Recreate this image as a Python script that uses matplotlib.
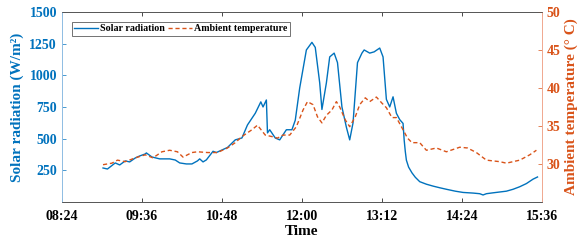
import pandas as pd
import numpy as np
import matplotlib.pyplot as plt
import matplotlib.dates as mdates

# --- datos ---
t_rad = ["09:01", "09:05", "09:12", "09:16", "09:21", "09:25", "09:30", "09:34", "09:39", "09:40",
         "09:45", "09:52", "10:01", "10:06", "10:10", "10:16", "10:21", "10:26", "10:28", "10:31",
         "10:34", "10:40", "10:43", "10:53", "11:00", "11:06", "11:11", "11:18", "11:23", "11:25",
         "11:28", "11:29", "11:31", "11:36", "11:40", "11:46", "11:51", "11:54", "11:58", "12:04",
         "12:09", "12:12", "12:16", "12:18", "12:22", "12:25", "12:29", "12:32", "12:36", "12:40",
         "12:43", "12:46", "12:50", "12:54", "12:56", "13:01", "13:05", "13:10", "13:13", "13:16",
         "13:19", "13:22", "13:25", "13:28", "13:31", "13:32", "13:33", "13:34", "13:36", "13:39",
         "13:42", "13:46", "13:52", "13:58", "14:04", "14:10", "14:18", "14:25", "14:34", "14:40",
         "14:43", "14:46", "14:52", "15:04", "15:10", "15:16", "15:22", "15:28", "15:32"]
radiacion = [268, 260, 308, 292, 324, 316, 347, 363, 379, 387,
             355, 340, 340, 331, 308, 300, 300, 324, 340, 316,
             332, 400, 390, 430, 490, 505, 608, 700, 790, 750,
             805, 545, 570, 505, 490, 570, 570, 645, 900, 1200,
             1260, 1220, 940, 730, 940, 1145, 1175, 1100, 750, 590,
             490, 625, 1100, 1175, 1200, 1175, 1185, 1215, 1145, 810,
             750, 830, 700, 650, 620, 490, 400, 330, 275, 230,
             195, 160, 140, 125, 112, 100, 85, 75, 70, 65,
             55, 65, 72, 85, 100, 120, 145, 180, 197]

t_temp = ["09:01", "09:09", "09:14", "09:21", "09:30", "09:39", "09:46", "09:54", "10:01", "10:08",
          "10:13", "10:21", "10:26", "10:35", "10:44", "10:53", "11:00", "11:06", "11:15", "11:20",
          "11:27", "11:33", "11:38", "11:43", "11:49", "11:55", "12:01", "12:05", "12:10", "12:14",
          "12:18", "12:22", "12:27", "12:31", "12:34", "12:39", "12:43", "12:48", "12:52", "12:57",
          "13:01", "13:07", "13:12", "13:16", "13:21", "13:25", "13:31", "13:35", "13:39", "13:46",
          "13:52", "14:01", "14:10", "14:22", "14:29", "14:37", "14:46", "14:58", "15:04", "15:16",
          "15:25", "15:31"]
temperatura = [29.9, 30.1, 30.5, 30.3, 30.8, 31.2, 30.8, 31.6, 31.8, 31.6,
               30.9, 31.5, 31.6, 31.5, 31.5, 32.1, 32.8, 33.6, 34.5, 35.1,
               33.8, 33.6, 33.4, 33.8, 33.8, 34.9, 37.1, 38.2, 37.8, 36.2,
               35.4, 36.4, 37.1, 38.2, 37.5, 35.8, 34.9, 36.2, 37.8, 38.7,
               38.2, 38.8, 38.0, 37.4, 36.1, 36.1, 34.5, 33.4, 32.8, 32.8,
               31.8, 32.1, 31.6, 32.2, 32.1, 31.5, 30.5, 30.3, 30.1, 30.5,
               31.2, 31.8]

ticks_x = ["08:24", "09:36", "10:48", "12:00", "13:12", "14:24", "15:36"]

azul = '#0072BD'
naranja = '#D95319'

def a_fecha(lista):
    return pd.to_datetime(["2020-01-01 " + s for s in lista])

plt.rcParams['font.family'] = 'Liberation Serif'
plt.rcParams['font.weight'] = 'bold'

fig = plt.figure(figsize=(5.84, 2.49), dpi=100)
ax1 = fig.add_axes([0.106, 0.189, 0.822, 0.763])
ax2 = ax1.twinx()

l1, = ax1.plot(a_fecha(t_rad), radiacion, color=azul, lw=1.0, label='Solar radiation')
l2, = ax2.plot(a_fecha(t_temp), temperatura, color=naranja, lw=1.0, ls=(0, (3, 2)),
               label='Ambient temperature')

fx = a_fecha(ticks_x)
ax1.set_xlim(fx[0], fx[-1])
ax1.set_xticks(fx)
ax1.xaxis.set_major_formatter(mdates.DateFormatter('%H:%M'))

ax1.set_ylim(0, 1500)
ax1.set_yticks([250, 500, 750, 1000, 1250, 1500])
ax2.set_ylim(25, 50)
ax2.set_yticks([30, 35, 40, 45, 50])

ax1.tick_params(axis='x', direction='in', top=True, length=3, width=0.5, labelsize=10, pad=6)
ax1.tick_params(axis='y', direction='in', colors=azul, length=3, width=0.5, labelsize=10)
ax2.tick_params(axis='y', direction='in', colors=naranja, length=3, width=0.5, labelsize=10)
for lab in ax1.get_xticklabels() + ax1.get_yticklabels() + ax2.get_yticklabels():
    lab.set_fontweight('bold')

for ax in (ax1, ax2):
    ax.spines['top'].set_color('#555555')
    ax.spines['bottom'].set_color('#555555')
    ax.spines['left'].set_color('#8fbde3')
    ax.spines['right'].set_color('#f0a890')
    for s in ax.spines.values():
        s.set_linewidth(0.6)

ax1.set_xlabel('Time', fontsize=11, fontweight='bold', labelpad=1)
ax1.set_ylabel('Solar radiation (W/m²)', fontsize=11, fontweight='bold', color=azul, labelpad=4)
ax2.set_ylabel('Ambient temperature (° C)', fontsize=11, fontweight='bold', color=naranja, labelpad=3)

leg = ax1.legend(handles=[l1, l2], loc='upper left', ncol=2, fontsize=7.2, frameon=True,
                 fancybox=False, edgecolor='#333333', borderpad=0.25, handlelength=2.4,
                 handletextpad=0.2, columnspacing=0.3, bbox_to_anchor=(0.01, 0.975))
leg.get_frame().set_linewidth(0.6)
for txt in leg.get_texts():
    txt.set_fontweight('bold')

fig.savefig('out.png', dpi=100)
